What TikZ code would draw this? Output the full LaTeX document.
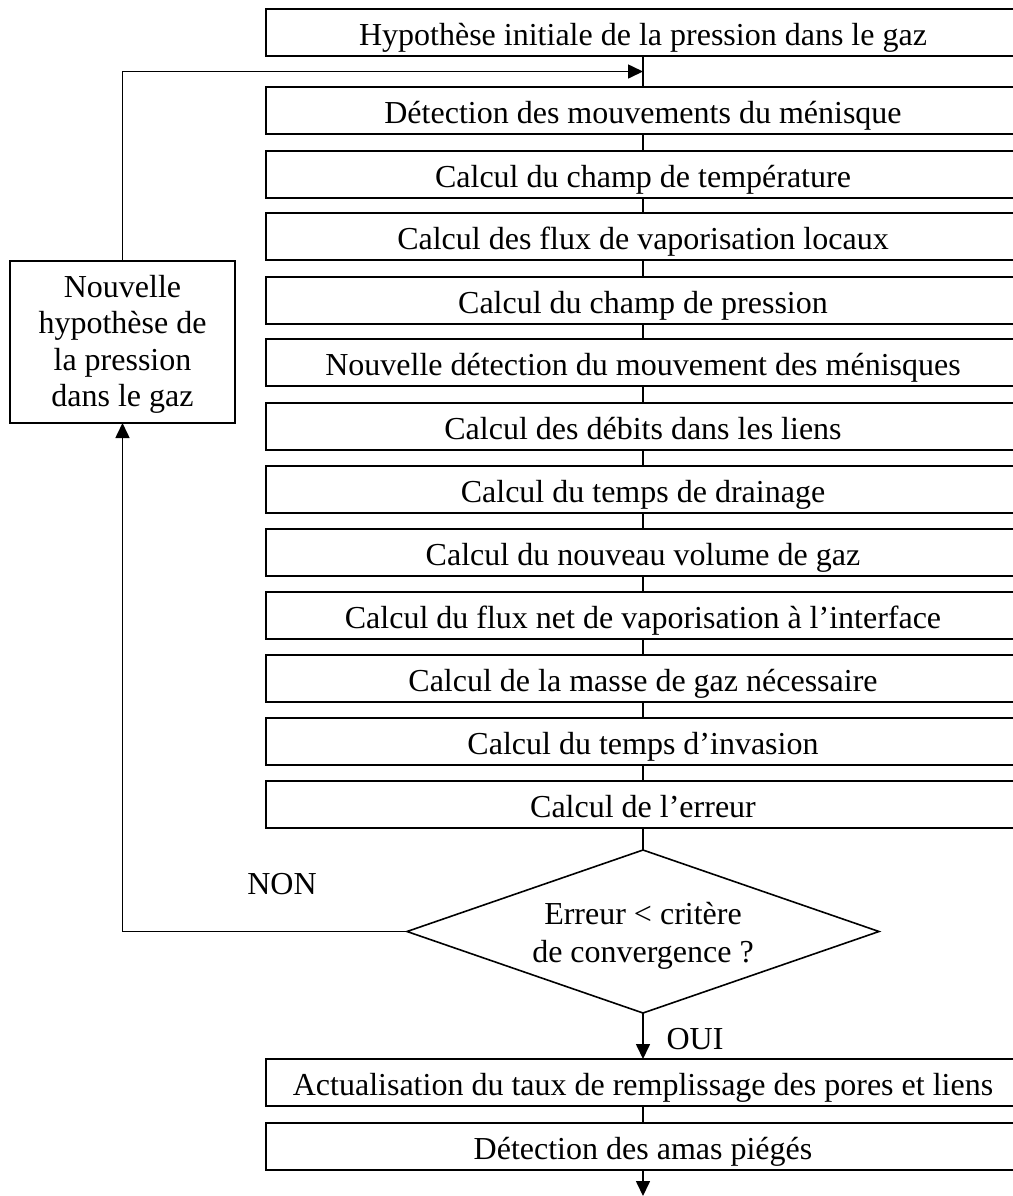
\documentclass[tikz,border=0pt]{standalone}
\usepackage{fontspec}
\setmainfont{Liberation Serif}
\usetikzlibrary{shapes.geometric,arrows.meta,calc}
\begin{document}
\begin{tikzpicture}[x=0.5pt,y=-0.5pt,
  txt/.style={font=\fontsize{16}{18.5}\selectfont},
  stepbox/.style={txt,draw,line width=1pt,outer sep=0pt,minimum width=377pt,minimum height=23.5pt,inner sep=0pt,text height=15.5pt,text depth=3pt,anchor=north west},
  conn/.style={line width=0.8pt},
  arr/.style={conn,-{Triangle[length=7.5pt,width=7pt]}}]
\clip (0,0) rectangle (1013,1196);
\node[stepbox] (b1) at (266,9) {Hypothèse initiale de la pression dans le gaz};
\node[stepbox] (b2) at (266,87) {Détection des mouvements du ménisque};
\node[stepbox] (b3) at (266,151) {Calcul du champ de température};
\node[stepbox] (b4) at (266,213) {Calcul des flux de vaporisation locaux};
\node[stepbox] (b5) at (266,277) {Calcul du champ de pression};
\node[stepbox] (b6) at (266,339) {Nouvelle détection du mouvement des ménisques};
\node[stepbox] (b7) at (266,403) {Calcul des débits dans les liens};
\node[stepbox] (b8) at (266,466) {Calcul du temps de drainage};
\node[stepbox] (b9) at (266,529) {Calcul du nouveau volume de gaz};
\node[stepbox] (b10) at (266,592) {Calcul du flux net de vaporisation à l’interface};
\node[stepbox] (b11) at (266,655) {Calcul de la masse de gaz nécessaire};
\node[stepbox] (b12) at (266,718) {Calcul du temps d’invasion};
\node[stepbox] (b13) at (266,781) {Calcul de l’erreur};
\node[font=\fontsize{16}{19}\selectfont,draw,line width=0.8pt,outer sep=0pt,shape=diamond,aspect=2.9,minimum width=236pt,minimum height=81.5pt,inner sep=0pt,align=center] (d) at (643,931.5) {\rule{0pt}{15pt}Erreur < critère\\de convergence ?};
\node[stepbox] (b14) at (266,1059) {Actualisation du taux de remplissage des pores et liens};
\node[stepbox] (b15) at (266,1123) {Détection des amas piégés};
\node[font=\fontsize{16}{18.3}\selectfont,draw,line width=1pt,outer sep=0pt,minimum width=112.5pt,minimum height=81pt,inner sep=0pt,align=center] (n) at (122.5,342) {\rule{0pt}{13.4pt}Nouvelle\\hypothèse de\\la pression\\dans le gaz};
\node[txt] (non) at (282,884) {NON};
\node[txt] (oui) at (695,1039) {OUI};
\foreach \a/\b in {b1/b2,b2/b3,b3/b4,b4/b5,b5/b6,b6/b7,b7/b8,b8/b9,b9/b10,b10/b11,b11/b12,b12/b13,b13/d,b14/b15}
  \draw[conn] (\a.south) -- (\a.south |- \b.north);
\coordinate (j) at ($(b1.south)!0.5!(b2.north)$);
\coordinate (e) at (643,1196);
\draw[arr] (n.north) |- (j);
\draw[arr] (d.west) -| (n.south);
\draw[arr] (d.south) -- (d.south |- b14.north);
\draw[arr] (b15.south) -- (e);
\end{tikzpicture}
\end{document}
